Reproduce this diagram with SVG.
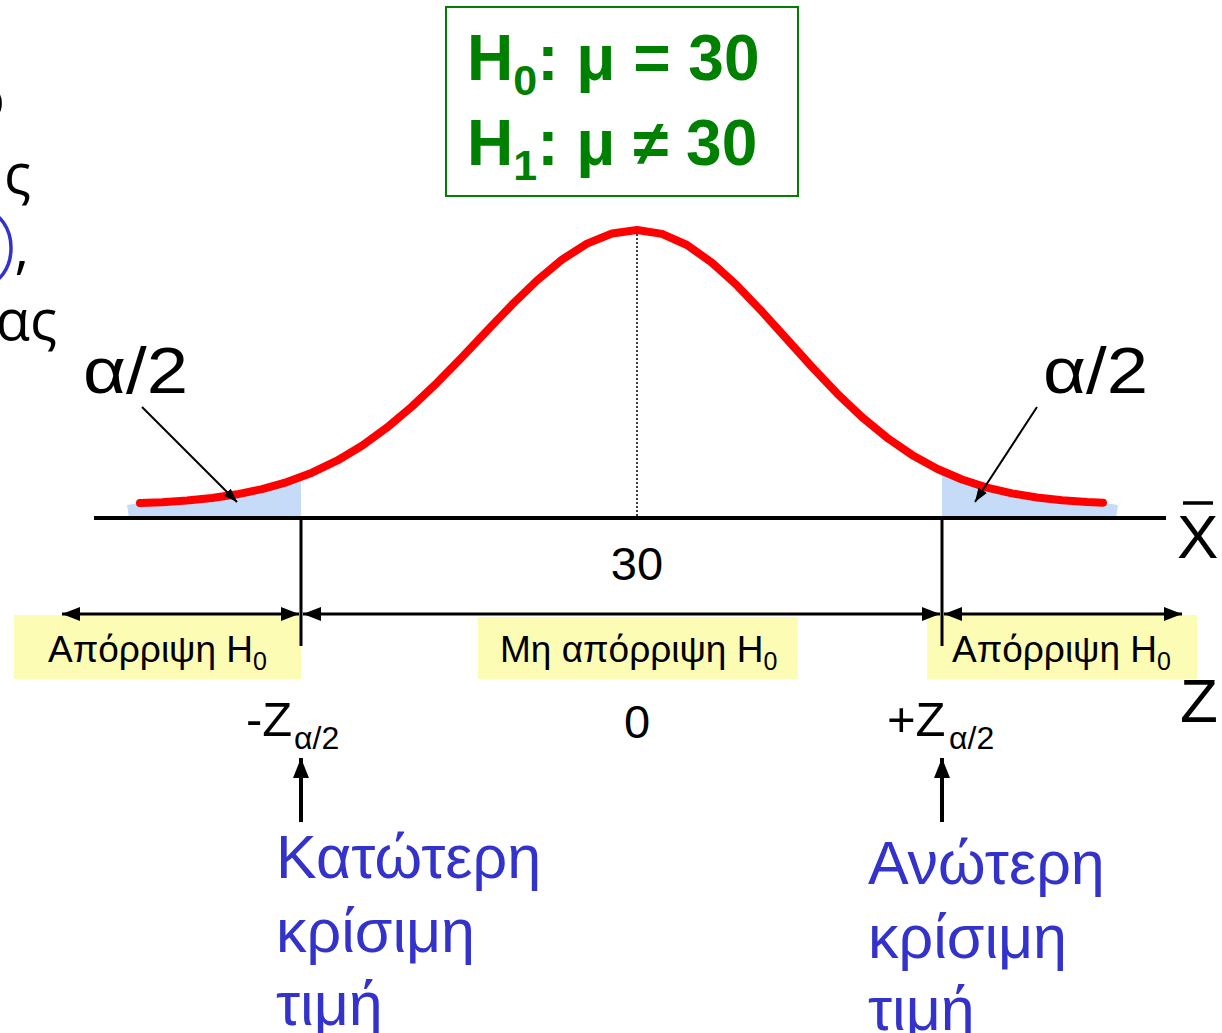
<svg xmlns="http://www.w3.org/2000/svg" width="1222" height="1033" viewBox="0 0 1222 1033">
<defs>
<style>
text{font-family:"Liberation Sans",Arial,sans-serif;fill:#000}
.hyp{font-weight:bold;fill:#008000;font-size:64px}
.lab{font-size:37px}
.sub{font-size:25px}
.blue{fill:#3333cc;font-size:61px}
.big{font-size:62px}
.alpha{font-size:64px}
.mid{font-size:47px}
.zmain{font-size:49px}
.zsub{font-size:32px}
.frag{font-family:"Open Sans","DejaVu Sans",sans-serif;font-size:56px}
.conn{stroke:#000;fill:none}
</style>
<marker id="ah" viewBox="0 0 18 14" refX="18" refY="7" markerWidth="18" markerHeight="14" markerUnits="userSpaceOnUse" orient="auto-start-reverse"><path d="M0,0 L18,7 L0,14 z" fill="#000"/></marker>
<marker id="ahUp" viewBox="0 0 20 16" refX="20" refY="8" markerWidth="20" markerHeight="16" markerUnits="userSpaceOnUse" orient="auto"><path d="M0,0 L20,8 L0,16 z" fill="#000"/></marker>
<marker id="ahS" viewBox="0 0 14 10" refX="14" refY="5" markerWidth="14" markerHeight="10" markerUnits="userSpaceOnUse" orient="auto"><path d="M0,0 L14,5 L0,10 z" fill="#000"/></marker>
</defs>
<rect width="1222" height="1033" fill="#fff"/>

<g id="clipped-text">
<text class="frag" x="5" y="118" text-anchor="end">ο</text>
<text class="frag" x="31" y="194" text-anchor="end">ς</text>
<ellipse cx="-15" cy="248" rx="26" ry="36" fill="none" stroke="#3333cc" stroke-width="3.5"/>
<text class="frag" x="29" y="268" text-anchor="end">,</text>
<text class="frag" x="57" y="340" text-anchor="end">ας</text>
</g>

<g id="hypotheses">
<rect x="446" y="7" width="352" height="189" fill="#fff" stroke="#008000" stroke-width="2"/>
<text class="hyp" x="467" y="80">H<tspan font-size="43" dy="15">0</tspan><tspan dy="-15">: μ = 30</tspan></text>
<text class="hyp" x="467" y="165">H<tspan font-size="43" dy="15">1</tspan><tspan dy="-15">: μ ≠ 30</tspan></text>
</g>

<g id="regions">
<rect x="14" y="615" width="287" height="64" fill="#fcfcb4"/>
<rect x="478" y="617" width="320" height="62" fill="#fcfcb4"/>
<rect x="927" y="615" width="270" height="64" fill="#fcfcb4"/>
<polygon points="127,505 140,503 162,502.2 187,500.5 212,498 237,494.3 262,489.1 287,482.1 301,477 301,518 129,518" fill="#c6dbf7"/>
<polygon points="942,518 942,471 962,479.5 987,487.6 1012,493.4 1037,497.5 1062,500.3 1087,502.1 1103,502.7 1118,505 1116,518" fill="#c6dbf7"/>
</g>

<g id="curve">
<line x1="637" y1="230" x2="637" y2="518" stroke="#000" stroke-width="1.5" stroke-dasharray="2,2"/>
<polyline fill="none" stroke="#ff0000" stroke-width="8" stroke-linecap="round" stroke-linejoin="round" points="140,503 162,502.2 187,500.5 212,498 237,494.3 262,489.1 287,482.1 312,472.7 337,460.7 362,445.7 387,427.6 412,406.5 437,382.8 462,357.2 487,330.8 512,304.7 537,280.5 562,259.6 587,243.6 612,233.5 637,230 662,233.9 687,245 712,262.7 737,285.4 762,311.6 787,339.3 812,367 837,393.3 862,417.1 887,437.7 912,454.9 937,468.8 962,479.5 987,487.6 1012,493.4 1037,497.5 1062,500.3 1087,502.1 1103,502.7"/>
</g>

<g id="connectors">
<line class="conn" x1="94" y1="518" x2="1166" y2="518" stroke-width="4"/>
<line class="conn" x1="301" y1="518" x2="301" y2="646" stroke-width="3"/>
<line class="conn" x1="942" y1="518" x2="942" y2="646" stroke-width="3"/>
<line class="conn" x1="62" y1="614" x2="299" y2="614" stroke-width="3" marker-start="url(#ah)" marker-end="url(#ah)"/>
<line class="conn" x1="303" y1="614" x2="940" y2="614" stroke-width="3" marker-start="url(#ah)" marker-end="url(#ah)"/>
<line class="conn" x1="944" y1="614" x2="1182" y2="614" stroke-width="3" marker-start="url(#ah)" marker-end="url(#ah)"/>
<line class="conn" x1="301" y1="822" x2="301" y2="758" stroke-width="4" marker-end="url(#ahUp)"/>
<line class="conn" x1="942" y1="822" x2="942" y2="758" stroke-width="4" marker-end="url(#ahUp)"/>
<line class="conn" x1="142" y1="407" x2="237" y2="502" stroke-width="2" marker-end="url(#ahS)"/>
<line class="conn" x1="1037" y1="407" x2="975" y2="502" stroke-width="2" marker-end="url(#ahS)"/>
<line class="conn" x1="1183" y1="503" x2="1213" y2="503" stroke-width="3.5"/>
</g>

<g id="labels">
<text class="alpha" x="83" y="393" textLength="105" lengthAdjust="spacingAndGlyphs">α/2</text>
<text class="alpha" x="1043" y="393" textLength="105" lengthAdjust="spacingAndGlyphs">α/2</text>
<text class="mid" x="637" y="580" text-anchor="middle">30</text>
<text class="big" x="1177" y="558">X</text>
<text class="big" x="1180" y="722">Z</text>
<text class="lab" x="48" y="662">Απόρριψη H<tspan class="sub" dy="8">0</tspan></text>
<text class="lab" x="500" y="662">Μη απόρριψη H<tspan class="sub" dy="8">0</tspan></text>
<text class="lab" x="952" y="662">Απόρριψη H<tspan class="sub" dy="8">0</tspan></text>
<text class="zmain" x="246" y="736">-Z</text>
<text class="zsub" x="294" y="749">α/2</text>
<text class="mid" x="637" y="738" text-anchor="middle">0</text>
<text class="zmain" x="887" y="736">+Z</text>
<text class="zsub" x="949" y="749">α/2</text>
</g>

<g id="lower-critical">
<text class="blue" x="276" y="878">Κατώτερη</text>
<text class="blue" x="276" y="952">κρίσιμη</text>
<text class="blue" x="276" y="1025">τιμή</text>
</g>
<g id="upper-critical">
<text class="blue" x="868" y="884">Ανώτερη</text>
<text class="blue" x="868" y="958">κρίσιμη</text>
<text class="blue" x="868" y="1030">τιμή</text>
</g>
</svg>
